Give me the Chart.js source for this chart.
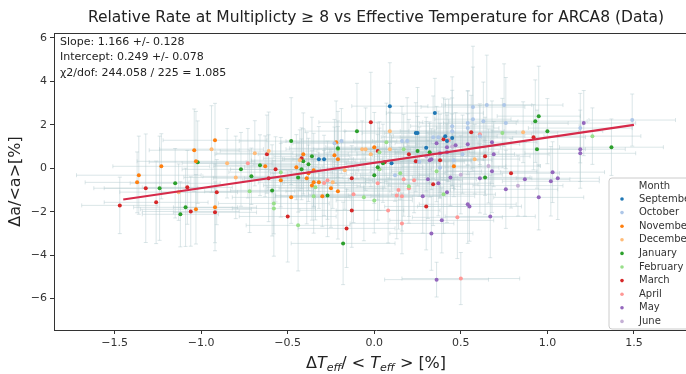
<!DOCTYPE html>
<html>
<head>
<meta charset="utf-8">
<script src="https://cdn.jsdelivr.net/npm/chart.js@4/dist/chart.umd.min.js"></script>
<style>
html, body { margin: 0; padding: 0; background: #fff; overflow: hidden; }
#wrap { width: 712px; height: 374px; }
</style>
</head>
<body>
<div id="wrap"><canvas id="myChart" width="712" height="374"></canvas></div>
<script>
// points per month: [x, y, xerr, yerr]
var sep = [[0.09,2.86,0.22,2.0],[0.35,2.54,0.28,1.6],[0.24,1.62,0.18,1.4],[0.25,1.62,0.32,2.1],[0.10,0.23,0.26,1.3],
  [-0.32,0.42,0.2,1.5],[-0.29,0.42,0.24,1.1],[0.41,1.48,0.3,1.7],[0.42,1.25,0.22,1.2],[0.45,1.39,0.35,2.2],[0.30,0.95,0.2,1.4]];
var oct = [[0.57,2.82,0.3,2.8],[0.65,2.91,0.26,2.3],[0.75,2.91,0.34,1.9],[1.49,2.22,0.25,1.2],[1.19,1.85,0.3,1.6],
  [0.57,2.26,0.22,2.4],[0.54,2.08,0.28,1.5],[0.63,2.17,0.2,1.8],[0.76,2.08,0.36,2.1],[0.45,1.94,0.24,1.3],
  [0.45,1.71,0.3,2.5],[0.54,1.85,0.18,1.7],[0.61,1.48,0.26,1.4],[0.34,1.43,0.3,1.9],[0.37,1.43,0.22,1.2],
  [0.16,1.25,0.28,1.6],[0.19,1.25,0.2,2.0],[-0.19,1.25,0.32,1.5],[-0.23,1.15,0.24,1.1],[0.51,0.65,0.3,1.8],
  [0.46,0.37,0.22,1.3],[0.26,0.30,0.26,1.6],[0.38,0.02,0.34,1.4],[0.12,-0.32,0.2,1.2]];
var nov = [[-0.92,1.29,0.3,1.7],[-1.04,0.83,0.26,1.9],[-1.03,0.32,0.34,2.3],[-1.23,0.09,0.28,1.5],[-1.36,-0.32,0.36,1.8],
  [-1.37,-0.65,0.3,1.4],[-1.03,-1.89,0.32,1.6],[-0.92,-1.80,0.24,2.0],[-0.63,0.09,0.3,1.4],[-0.54,-0.55,0.22,1.7],
  [-0.48,-1.34,0.34,1.2],[-0.41,0.65,0.26,1.9],[-0.45,0.05,0.3,1.5],[-0.38,-0.23,0.22,1.3],[-0.39,-0.46,0.36,2.1],
  [-0.36,-0.79,0.28,1.6],[-0.30,-1.29,0.24,1.4],[-0.25,-0.92,0.3,1.8],[-0.32,-0.65,0.2,1.2],[-0.22,1.20,0.32,1.9],
  [-0.21,0.42,0.26,1.5],[-0.21,-1.06,0.3,2.2],[-0.23,0.60,0.22,1.3],[0.00,0.97,0.28,1.6],[0.46,0.09,0.3,1.4],
  [-0.35,-0.09,0.26,1.7],[-0.35,-0.65,0.32,1.1]];
var dec = [[-0.94,0.88,0.3,2.0],[-0.85,0.23,0.26,1.6],[-1.13,-1.10,0.34,1.3],[-0.61,0.79,0.28,1.8],[-0.69,0.69,0.22,1.5],
  [-0.80,-0.42,0.3,1.9],[0.09,1.71,0.26,2.2],[0.86,1.66,0.32,1.4],[0.09,0.88,0.2,1.7],[-0.07,0.88,0.28,1.3],
  [-0.05,0.88,0.24,1.9],[-0.02,0.65,0.3,1.5],[0.58,0.42,0.26,1.6],[-0.24,-0.65,0.3,1.2],[-0.17,-0.09,0.22,1.8],
  [-0.43,0.37,0.28,1.4]];
var jan = [[-1.02,0.28,0.28,1.9],[-1.24,-0.92,0.32,2.4],[-1.15,-0.69,0.26,1.6],[-1.09,-1.80,0.3,1.8],[-1.12,-2.12,0.22,1.5],
  [-0.48,1.25,0.3,2.0],[-0.66,0.14,0.26,1.4],[-0.77,-0.05,0.34,1.7],[-0.71,-0.37,0.28,1.3],[-0.59,-1.02,0.24,2.1],
  [-0.41,0.32,0.3,1.5],[-0.36,0.55,0.22,1.8],[-0.38,0.18,0.32,1.2],[-0.44,-0.42,0.26,1.6],[-0.27,-1.25,0.3,1.9],
  [-0.42,-0.05,0.24,1.4],[-0.21,0.92,0.28,1.7],[-0.10,1.71,0.3,2.2],[0.02,0.05,0.26,1.5],[0.00,-0.32,0.32,1.3],
  [0.05,0.23,0.22,1.8],[0.25,0.79,0.3,1.6],[0.32,0.74,0.26,1.4],[0.93,2.17,0.3,1.9],[0.95,2.40,0.24,2.3],
  [1.00,1.71,0.32,1.5],[0.94,0.88,0.28,1.8],[1.37,0.97,0.3,1.3],[0.64,-0.42,0.26,1.7],[-0.18,-3.46,0.3,1.9]];
var feb = [[-0.54,-0.18,0.3,1.6],[-0.72,-1.06,0.26,1.9],[-0.58,-1.62,0.32,1.4],[-0.58,-1.85,0.24,2.2],[-0.44,-2.63,0.3,2.1],
  [-0.34,-0.88,0.28,1.5],[-0.35,-1.29,0.22,1.7],[-0.21,0.88,0.3,1.3],[0.07,1.20,0.26,1.8],[0.03,0.74,0.32,1.4],
  [0.17,0.88,0.24,1.6],[0.03,-0.05,0.3,1.9],[0.15,-0.23,0.26,1.2],[0.20,-0.83,0.3,1.7],[-0.06,-1.34,0.28,2.0],
  [0.00,-1.48,0.22,1.5],[0.40,-1.20,0.3,1.8],[0.36,-0.14,0.26,1.4],[0.74,1.62,0.32,1.6],[1.26,1.48,0.28,1.3]];
var mar = [[-1.32,-0.92,0.3,2.5],[-1.08,-0.88,0.26,1.7],[-0.91,-1.10,0.32,1.5],[-1.47,-1.71,0.22,1.3],[-1.26,-1.57,0.3,1.9],
  [-1.06,-1.99,0.28,1.6],[-0.92,-2.03,0.24,1.4],[-0.62,0.65,0.3,1.8],[-0.57,-0.05,0.26,1.5],[-0.61,-0.46,0.32,2.0],
  [-0.50,-2.22,0.28,2.1],[-0.42,0.46,0.22,1.4],[-0.02,2.12,0.3,2.3],[0.56,1.66,0.26,1.7],[0.92,1.43,0.3,1.5],
  [0.40,1.34,0.24,1.9],[0.02,0.79,0.28,1.3],[0.20,0.65,0.3,1.6],[0.64,0.55,0.26,1.8],[0.24,0.32,0.32,1.4],
  [0.38,0.37,0.22,1.7],[0.06,0.28,0.3,1.2],[0.79,-0.23,0.28,1.6],[0.34,-0.74,0.26,1.9],[-0.13,-0.46,0.3,1.5],
  [0.30,-1.76,0.24,2.0],[-0.13,-1.94,0.3,1.7],[-0.16,-2.77,0.28,1.8]];
var apr = [[-0.73,0.23,0.3,1.6],[-0.27,-0.55,0.26,1.8],[0.61,1.57,0.3,1.4],[0.43,1.29,0.24,1.9],[0.23,-0.55,0.28,1.5],
  [0.17,-0.51,0.32,1.7],[-0.12,-1.20,0.26,1.3],[0.14,-1.00,0.3,1.8],[0.16,-1.29,0.22,1.6],[0.13,-1.25,0.28,2.0],
  [0.08,-1.94,0.3,1.5],[0.48,-2.26,0.26,1.9],[0.16,-2.54,0.3,1.4],[0.50,-5.08,0.34,1.2],[-0.29,-0.68,0.24,1.5],
  [0.02,-0.69,0.3,1.7],[0.20,-0.92,0.26,1.3]];
var may = [[1.21,2.08,0.3,1.5],[1.19,0.88,0.26,1.8],[1.19,0.69,0.32,1.3],[0.36,1.15,0.24,1.7],[0.54,1.11,0.3,1.4],
  [0.68,1.20,0.26,1.9],[0.47,1.06,0.28,1.5],[0.42,0.97,0.22,1.6],[0.42,0.74,0.3,1.3],[0.38,0.69,0.26,1.8],
  [0.69,0.65,0.32,1.5],[0.32,0.37,0.24,1.7],[0.33,0.42,0.3,1.4],[0.68,-0.14,0.26,1.9],[0.61,-0.46,0.3,1.6],
  [0.44,-0.42,0.22,1.3],[0.31,-0.51,0.28,1.8],[0.37,-0.69,0.3,1.5],[0.87,-0.51,0.26,1.7],[1.03,-0.18,0.3,1.4],
  [1.06,-0.46,0.24,1.9],[1.02,-0.60,0.28,1.6],[0.76,-0.97,0.3,1.8],[0.95,-1.34,0.26,1.5],[0.28,-1.29,0.3,1.7],
  [0.42,-1.10,0.22,1.4],[0.54,-1.66,0.28,1.8],[0.55,-1.76,0.3,1.6],[0.67,-2.22,0.26,1.9],[0.39,-2.40,0.3,1.5],
  [0.33,-3.00,0.24,1.7],[0.36,-5.13,0.3,0.8]];
var jun = [[0.45,1.00,0.28,1.5],[0.66,0.10,0.3,1.7],[0.83,-0.80,0.26,1.4],[0.30,0.55,0.3,1.6],[0.50,-0.30,0.24,1.8]];

var months = ['September','October','November','December','January','February','March','April','May','June'];
var monthData = [sep, oct, nov, dec, jan, feb, mar, apr, may, jun];
var monthColors = ['#1f77b4','#aec7e8','#ff7f0e','#ffbb78','#2ca02c','#98df8a','#d62728','#ff9896','#9467bd','#c5b0d5'];

var xTicks = [-1.5, -1.0, -0.5, 0.0, 0.5, 1.0, 1.5];
var yTicks = [-6, -4, -2, 0, 2, 4, 6];

// fitted line
var fitX = [-1.45, 1.5];
var fitY = [-1.44, 2.0];
var fitText = ['Slope: 1.166 +/- 0.128', 'Intercept: 0.249 +/- 0.078', '\u03c72/dof: 244.058 / 225 = 1.085'];

Chart.defaults.font.family = "'DejaVu Sans', sans-serif";

var datasets = [];
for (var i = 0; i < months.length; i++) {
    datasets.push({
        label: months[i],
        data: monthData[i].map(function(p) { return {x: p[0], y: p[1], xe: p[2], ye: p[3]}; }),
        backgroundColor: monthColors[i],
        borderWidth: 0,
        pointRadius: 2,
        pointHoverRadius: 2,
        order: 2
    });
}
datasets.push({
    type: 'line',
    label: 'fit',
    data: fitX.map(function(x, i) { return {x: x, y: fitY[i]}; }),
    borderColor: '#d62a4a',
    borderWidth: 2.2,
    pointRadius: 0,
    fill: false,
    order: 0
});

var errorBars = {
    id: 'errorBars',
    beforeDatasetsDraw: function(chart) {
        var ctx = chart.ctx, a = chart.chartArea;
        var xs = chart.scales.x, ys = chart.scales.y;
        ctx.save();
        ctx.beginPath();
        ctx.rect(a.left, a.top, a.right - a.left, a.bottom - a.top);
        ctx.clip();
        ctx.strokeStyle = 'rgba(175,200,205,0.45)';
        ctx.lineWidth = 1;
        chart.data.datasets.forEach(function(ds) {
            if (ds.type === 'line') return;
            ds.data.forEach(function(p) {
                var px = xs.getPixelForValue(p.x), py = ys.getPixelForValue(p.y);
                var x0 = xs.getPixelForValue(p.x - p.xe), x1 = xs.getPixelForValue(p.x + p.xe);
                var y0 = ys.getPixelForValue(p.y - p.ye), y1 = ys.getPixelForValue(p.y + p.ye);
                ctx.beginPath();
                ctx.moveTo(x0, py); ctx.lineTo(x1, py);
                ctx.moveTo(px, y0); ctx.lineTo(px, y1);
                // caps
                ctx.moveTo(x0, py - 2); ctx.lineTo(x0, py + 2);
                ctx.moveTo(x1, py - 2); ctx.lineTo(x1, py + 2);
                ctx.moveTo(px - 2, y0); ctx.lineTo(px + 2, y0);
                ctx.moveTo(px - 2, y1); ctx.lineTo(px + 2, y1);
                ctx.stroke();
            });
        });
        ctx.restore();
    }
};

var decor = {
    id: 'decor',
    afterDraw: function(chart) {
        var ctx = chart.ctx, a = chart.chartArea;
        ctx.save();
        // frame top and right
        ctx.strokeStyle = '#333';
        ctx.lineWidth = 1;
        ctx.beginPath();
        ctx.moveTo(a.left, a.top + 0.5); ctx.lineTo(a.right, a.top + 0.5);
        ctx.lineTo(a.right, a.bottom);
        ctx.stroke();

        // fit results text
        ctx.fillStyle = '#222';
        ctx.font = "11px 'DejaVu Sans'";
        ctx.textBaseline = 'middle';
        ctx.textAlign = 'left';
        fitText.forEach(function(t, i) { ctx.fillText(t, a.left + 6, a.top + 9 + i * 15.5); });

        // legend
        var lx = 609, ly = 178, lw = 91, lh = 151;
        ctx.fillStyle = 'rgba(255,255,255,0.85)';
        ctx.strokeStyle = '#cccccc';
        ctx.beginPath();
        ctx.roundRect(lx, ly, lw, lh, 3);
        ctx.fill();
        ctx.stroke();
        ctx.fillStyle = '#333';
        ctx.font = "10px 'DejaVu Sans'";
        ctx.textAlign = 'center';
        ctx.fillText('Month', lx + lw / 2, ly + 8);
        ctx.textAlign = 'left';
        months.forEach(function(m, i) {
            var yy = ly + 21 + i * 13.6;
            ctx.fillStyle = monthColors[i];
            ctx.beginPath();
            ctx.arc(lx + 13, yy, 1.8, 0, Math.PI * 2);
            ctx.fill();
            ctx.fillStyle = '#333';
            ctx.fillText(m, lx + 30, yy);
        });

        // x axis label with subscripts
        var parts = [
            ['\u0394', "16px 'DejaVu Sans'", 0],
            ['T', "italic 16px 'DejaVu Sans'", 0],
            ['eff', "italic 11px 'DejaVu Sans'", 4],
            ['/ < ', "16px 'DejaVu Sans'", 0],
            ['T', "italic 16px 'DejaVu Sans'", 0],
            ['eff', "italic 11px 'DejaVu Sans'", 4],
            [' > [%]', "16px 'DejaVu Sans'", 0]
        ];
        var total = 0;
        parts.forEach(function(p) { ctx.font = p[1]; p.push(ctx.measureText(p[0]).width); total += p[3]; });
        var cx = (a.left + a.right) / 2 - total / 2;
        ctx.fillStyle = '#222';
        parts.forEach(function(p) {
            ctx.font = p[1];
            ctx.fillText(p[0], cx, 364 + p[2]);
            cx += p[3];
        });
        ctx.restore();
    }
};

var ctx = document.getElementById('myChart').getContext('2d');
var chart = new Chart(ctx, {
    type: 'scatter',
    data: { datasets: datasets },
    options: {
        responsive: false,
        animation: false,
        events: [],
        layout: { padding: { left: 0, right: 14, top: 0, bottom: 0 } },
        plugins: {
            legend: { display: false },
            tooltip: { enabled: false },
            title: {
                display: true,
                fullSize: false,
                text: 'Relative Rate at Multiplicty \u2265 8 vs Effective Temperature for ARCA8 (Data)',
                font: { size: 15.5, weight: 'normal' },
                color: '#222',
                padding: { top: 9, bottom: 5.4 }
            }
        },
        scales: {
            x: {
                type: 'linear',
                min: -1.85,
                max: 1.87,
                afterBuildTicks: function(s) { s.ticks = xTicks.map(function(v) { return {value: v}; }); },
                afterFit: function(s) { s.height = 44; },
                ticks: {
                    callback: function(v) { return v.toFixed(1).replace('-', '\u2212'); },
                    font: { size: 11 },
                    color: '#333',
                    padding: 3,
                    maxRotation: 0
                },
                grid: { drawOnChartArea: false, tickLength: 4, color: '#333' },
                border: { color: '#333' }
            },
            y: {
                min: -7.45,
                max: 6.23,
                afterBuildTicks: function(s) { s.ticks = yTicks.map(function(v) { return {value: v}; }); },
                afterFit: function(s) { s.width = 54; },
                ticks: {
                    callback: function(v) { return String(v).replace('-', '\u2212'); },
                    font: { size: 11 },
                    color: '#333',
                    padding: 3
                },
                grid: { drawOnChartArea: false, tickLength: 4, color: '#333' },
                border: { color: '#333' },
                title: {
                    display: true,
                    text: '\u0394a/<a>[%]',
                    font: { size: 16 },
                    color: '#222',
                    padding: { top: 6, bottom: 0 }
                }
            }
        }
    },
    plugins: [errorBars, decor]
});
</script>
</body>
</html>
